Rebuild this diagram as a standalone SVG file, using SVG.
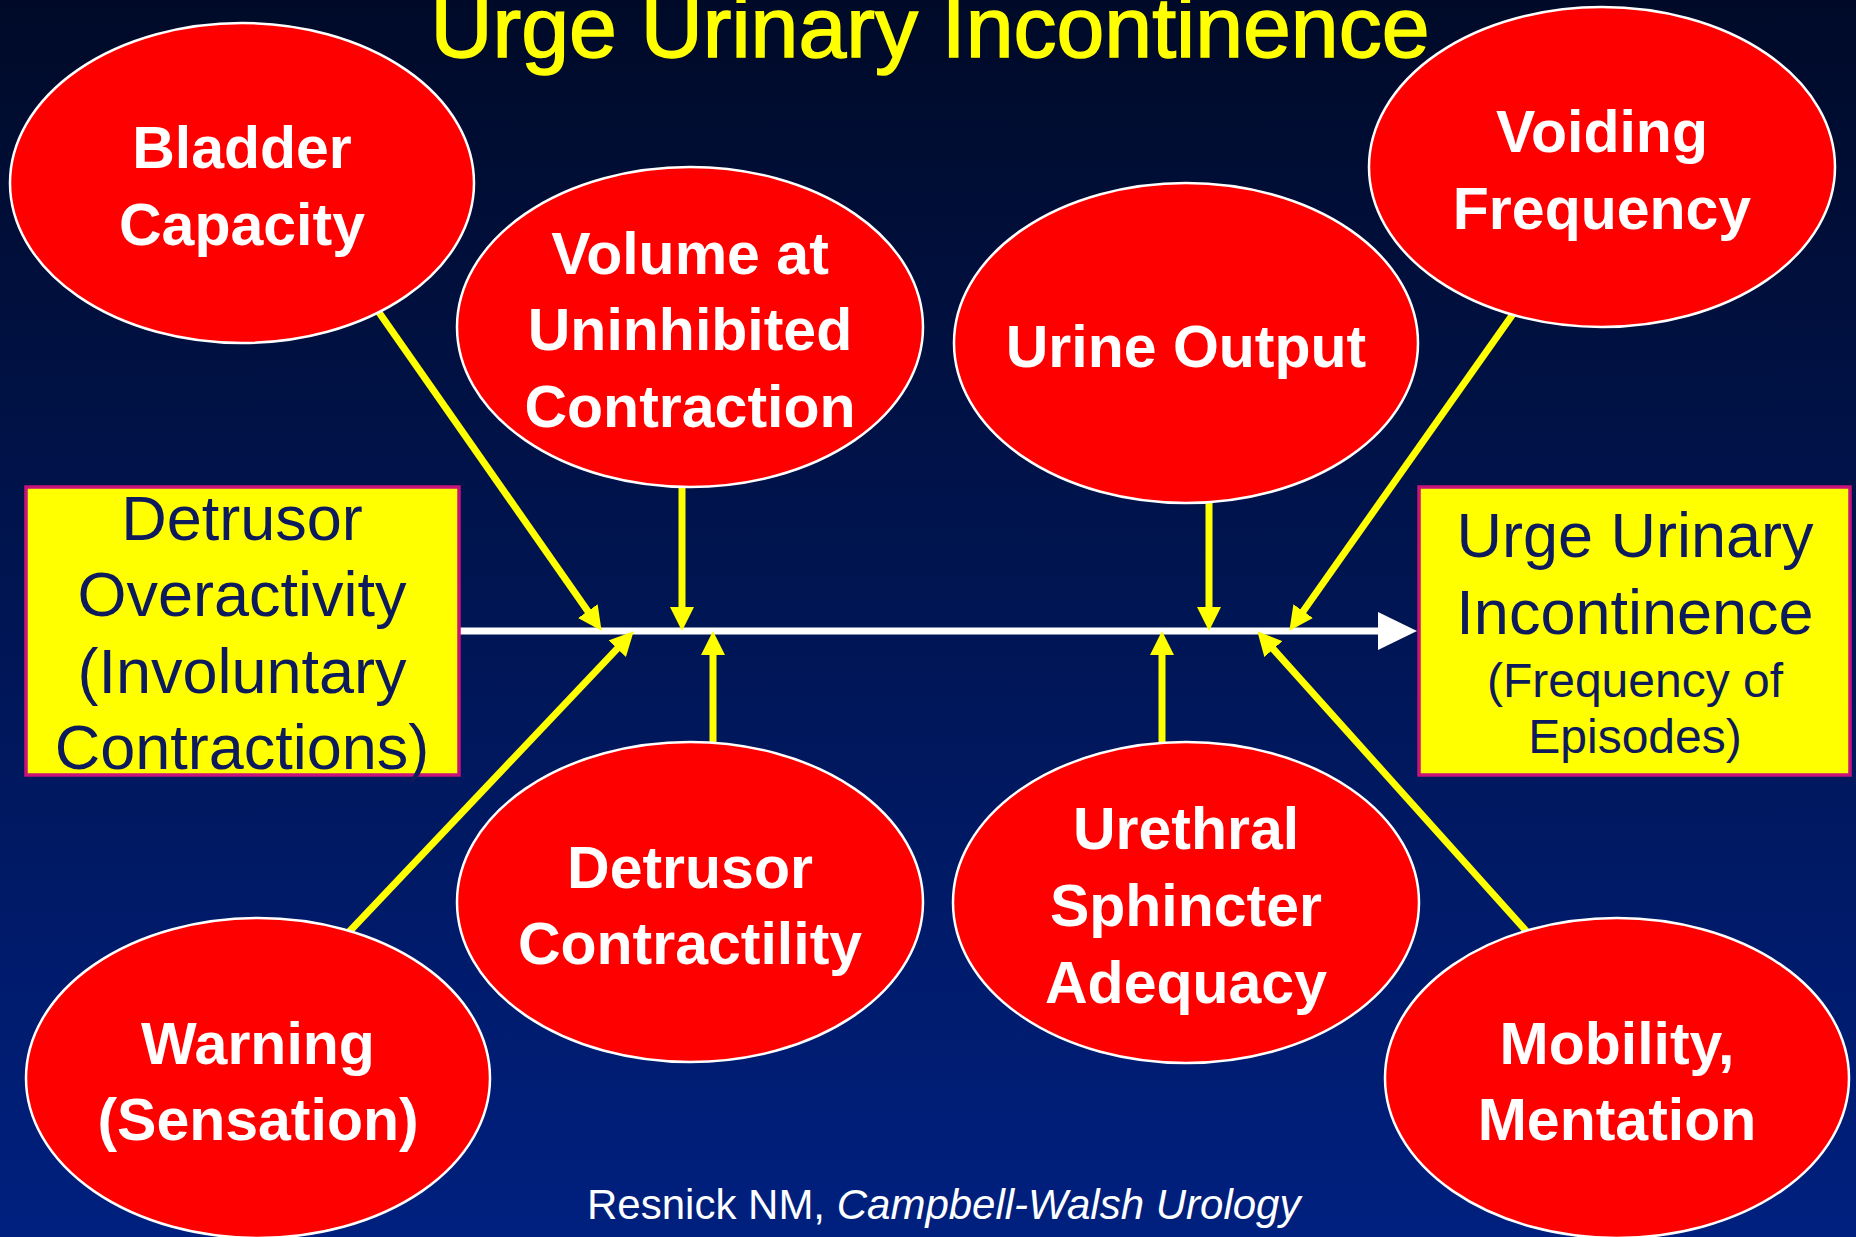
<svg xmlns="http://www.w3.org/2000/svg" width="1856" height="1237" viewBox="0 0 1856 1237">
<defs>
<linearGradient id="bg" x1="0" y1="0" x2="0" y2="1">
<stop offset="0" stop-color="#000a28"/>
<stop offset="1" stop-color="#00207f"/>
</linearGradient>
<marker id="ya" markerUnits="userSpaceOnUse" markerWidth="24" markerHeight="24" refX="8" refY="12" orient="auto">
<path d="M0,0 L24,12 L0,24 z" fill="#ffff00"/>
</marker>
<style>
.ell{fill:#ff0000;stroke:#ffffff;stroke-width:2.5}
.nt{font-family:"Liberation Sans",Arial,sans-serif;font-weight:bold;font-size:59px;fill:#ffffff;text-anchor:middle}
.box{fill:#ffff00;stroke:#c8137a;stroke-width:3.5}
.bt{font-family:"Liberation Sans",Arial,sans-serif;font-size:63px;fill:#0d1a5c;text-anchor:middle}
.bs{font-size:48px}
.yl{stroke:#ffff00;stroke-width:7;fill:none;marker-end:url(#ya)}
</style>
</defs>
<rect x="0" y="0" width="1856" height="1237" fill="url(#bg)"/>
<text x="930" y="57" font-family="Liberation Sans, Arial, sans-serif" font-size="86" fill="#ffff00" stroke="#ffff00" stroke-width="1.5" text-anchor="middle">Urge Urinary Incontinence</text>

<g id="connectors">
<line x1="459" y1="631" x2="1382" y2="631" stroke="#ffffff" stroke-width="7"/>
<polygon points="1378,612 1417,631 1378,650" fill="#ffffff"/>
<line class="yl" x1="378" y1="311" x2="592.4" y2="617.7"/>
<line class="yl" x1="682" y1="487" x2="682" y2="615"/>
<line class="yl" x1="348" y1="933" x2="622.7" y2="642.9"/>
<line class="yl" x1="713" y1="742" x2="713" y2="647"/>
<line class="yl" x1="1209" y1="503" x2="1209" y2="615"/>
<line class="yl" x1="1513" y1="314" x2="1298.6" y2="617.7"/>
<line class="yl" x1="1162" y1="742" x2="1162" y2="647"/>
<line class="yl" x1="1528" y1="933" x2="1268" y2="643.2"/>
</g>

<g id="bladder-capacity">
<ellipse class="ell" cx="242" cy="183" rx="232" ry="160"/>
<text class="nt" x="242" y="168">Bladder</text>
<text class="nt" x="242" y="245">Capacity</text>
</g>
<g id="volume-uninhibited">
<ellipse class="ell" cx="690" cy="327" rx="233" ry="160"/>
<text class="nt" x="690" y="274">Volume at</text>
<text class="nt" x="690" y="350">Uninhibited</text>
<text class="nt" x="690" y="427">Contraction</text>
</g>
<g id="urine-output">
<ellipse class="ell" cx="1186" cy="343" rx="232" ry="160"/>
<text class="nt" x="1186" y="367">Urine Output</text>
</g>
<g id="voiding-frequency">
<ellipse class="ell" cx="1602" cy="167" rx="233" ry="160"/>
<text class="nt" x="1602" y="152">Voiding</text>
<text class="nt" x="1602" y="229">Frequency</text>
</g>
<g id="detrusor-contractility">
<ellipse class="ell" cx="690" cy="902" rx="233" ry="160"/>
<text class="nt" x="690" y="888">Detrusor</text>
<text class="nt" x="690" y="964">Contractility</text>
</g>
<g id="urethral-sphincter">
<ellipse class="ell" cx="1186" cy="902.5" rx="233" ry="160.5"/>
<text class="nt" x="1186" y="849">Urethral</text>
<text class="nt" x="1186" y="926">Sphincter</text>
<text class="nt" x="1186" y="1003">Adequacy</text>
</g>
<g id="warning-sensation">
<ellipse class="ell" cx="258" cy="1078" rx="232" ry="160"/>
<text class="nt" x="258" y="1064">Warning</text>
<text class="nt" x="258" y="1140">(Sensation)</text>
</g>
<g id="mobility-mentation">
<ellipse class="ell" cx="1617" cy="1078" rx="232" ry="160"/>
<text class="nt" x="1617" y="1064">Mobility,</text>
<text class="nt" x="1617" y="1140">Mentation</text>
</g>

<g id="detrusor-overactivity">
<rect class="box" x="26" y="487" width="433" height="288"/>
<text class="bt" x="242" y="540">Detrusor</text>
<text class="bt" x="242" y="616">Overactivity</text>
<text class="bt" x="242" y="693">(Involuntary</text>
<text class="bt" x="242" y="769">Contractions)</text>
</g>
<g id="urge-urinary-incontinence">
<rect class="box" x="1419" y="487" width="431" height="288"/>
<text class="bt" x="1635" y="557">Urge Urinary</text>
<text class="bt" x="1635" y="634">Incontinence</text>
<text class="bt bs" x="1635" y="697">(Frequency of</text>
<text class="bt bs" x="1635" y="753">Episodes)</text>
</g>

<text x="587" y="1219" font-family="Liberation Sans, Arial, sans-serif" font-size="42" fill="#ffffff">Resnick NM, <tspan font-style="italic">Campbell-Walsh Urology</tspan></text>
</svg>
